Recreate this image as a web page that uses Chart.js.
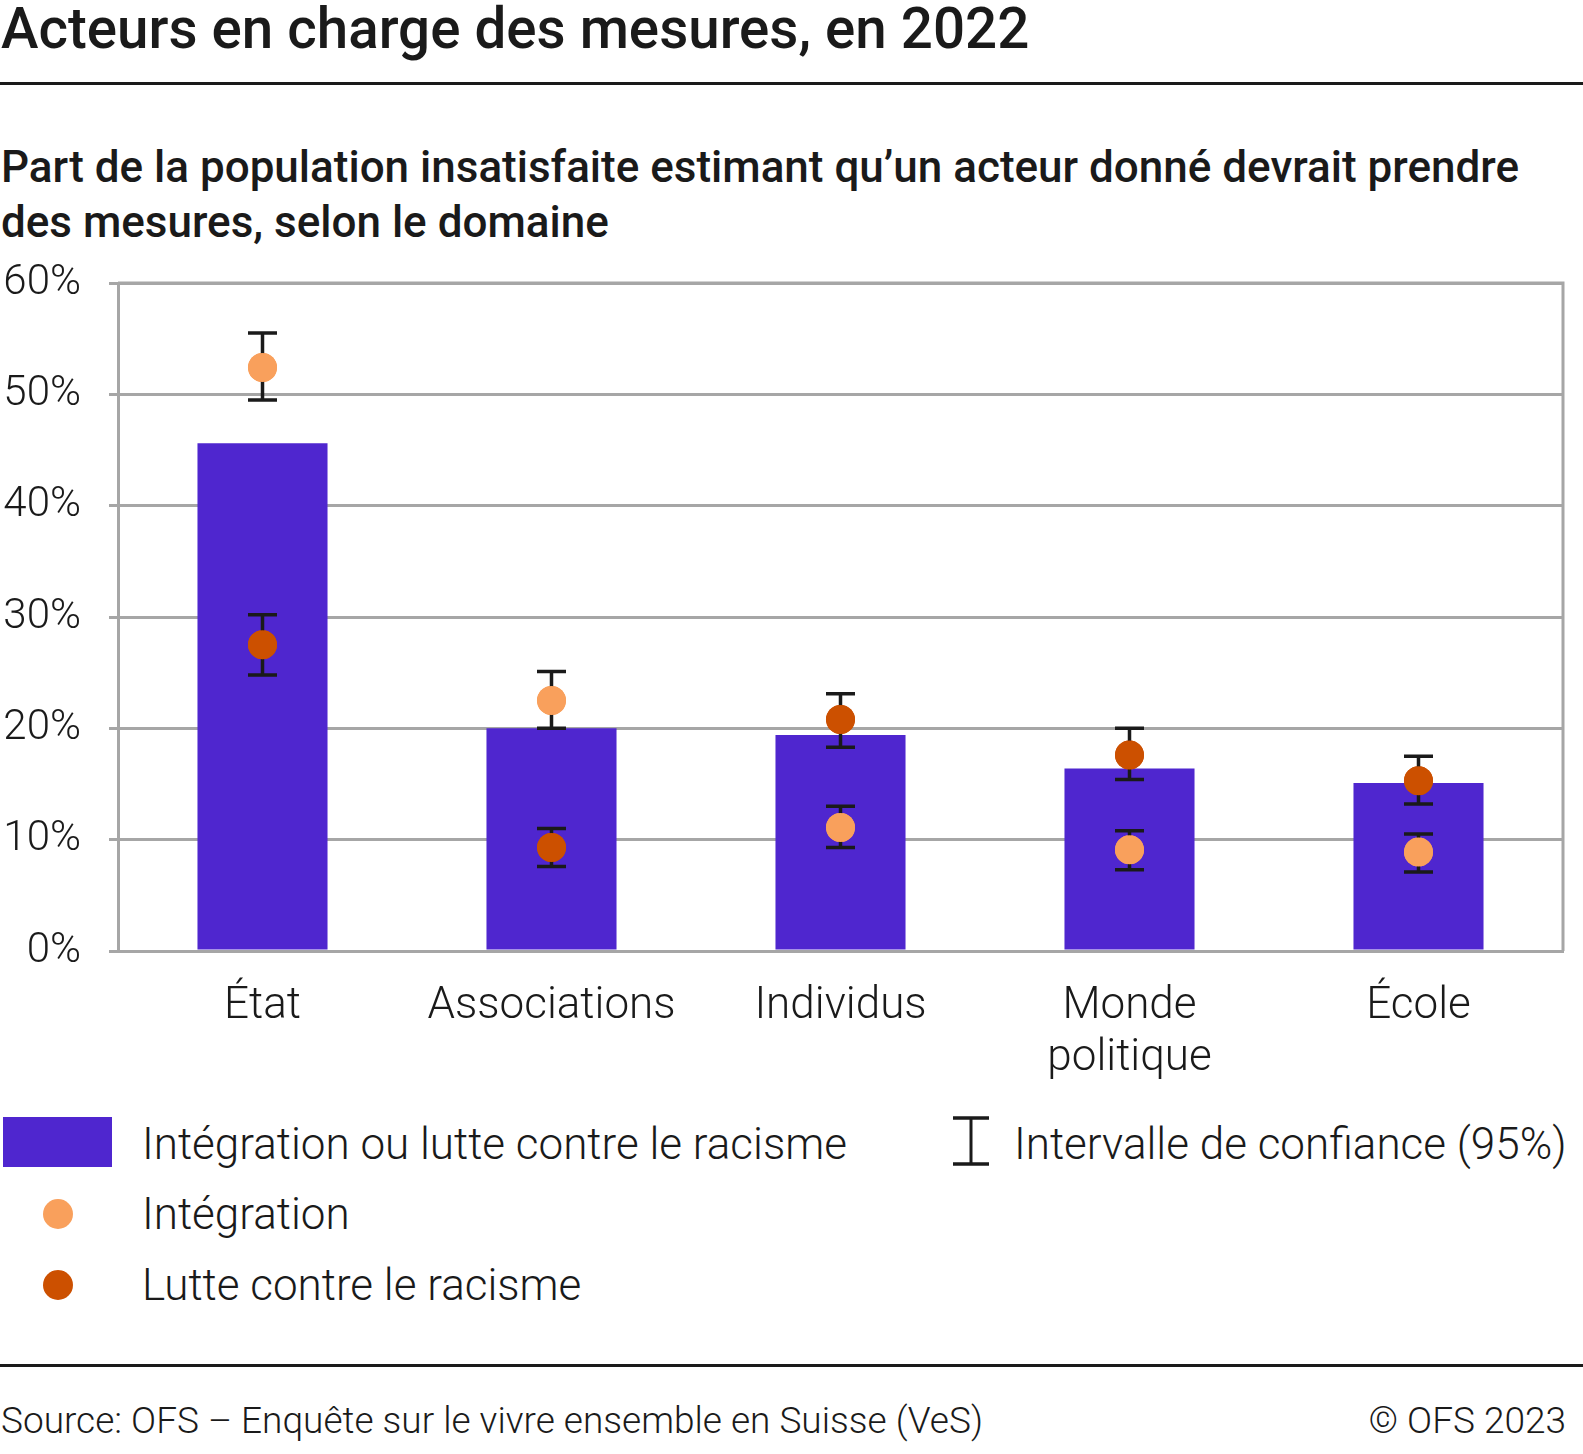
<!DOCTYPE html>
<html>
<head>
<meta charset="utf-8">
<script src="https://cdn.jsdelivr.net/npm/chart.js@4"></script>
<style>
  html, body { margin: 0; padding: 0; width: 1583px; height: 1454px; overflow: hidden; background: #fff; }
  body { font-family: Roboto, sans-serif; color: #1a1a1a; }
  #page { position: relative; width: 1583px; height: 1454px; overflow: hidden; }
  .abs { position: absolute; white-space: nowrap; }
  #title { left: 1px; top: -4px; font-size: 56.5px; font-weight: 500; }
  #rule1 { left: 0; top: 82px; width: 1583px; height: 3px; background: #1a1a1a; }
  #sub { left: 1px; top: 140px; font-size: 44px; font-weight: 500; line-height: 55px; }
  #chartBox { left: 0; top: 250px; width: 1583px; height: 840px; }
  .leg { font-size: 44px; font-weight: 300; }
  #rule2 { left: 0; top: 1364px; width: 1583px; height: 3px; background: #1a1a1a; }
  .foot { font-size: 37px; font-weight: 300; top: 1399px; }
</style>
</head>
<body>
<div id="page">
  <div id="title" class="abs">Acteurs en charge des mesures, en 2022</div>
  <div id="rule1" class="abs"></div>
  <div id="sub" class="abs">Part de la population insatisfaite estimant qu’un acteur donné devrait prendre<br>des mesures, selon le domaine</div>
  <div id="chartBox" class="abs"><canvas id="chart" width="1583" height="840"></canvas></div>

  <div class="abs" style="left:3px;top:1117px;width:109px;height:50px;background:#4f26cf"></div>
  <div class="abs leg" style="left:142px;top:1118px">Intégration ou lutte contre le racisme</div>
  <div class="abs" style="left:43px;top:1199px;width:30px;height:30px;border-radius:50%;background:#f9a05c"></div>
  <div class="abs leg" style="left:142px;top:1188px">Intégration</div>
  <div class="abs" style="left:43px;top:1270px;width:30px;height:30px;border-radius:50%;background:#cc5000"></div>
  <div class="abs leg" style="left:142px;top:1259px">Lutte contre le racisme</div>
  <svg class="abs" style="left:951px;top:1115px" width="40" height="54">
    <line x1="2" y1="3" x2="38" y2="3" stroke="#1a1a1a" stroke-width="3.5"/>
    <line x1="20" y1="2" x2="20" y2="50" stroke="#1a1a1a" stroke-width="3"/>
    <line x1="2" y1="49" x2="38" y2="49" stroke="#1a1a1a" stroke-width="3.5"/>
  </svg>
  <div class="abs leg" style="left:1014px;top:1118px">Intervalle de confiance (95%)</div>

  <div id="rule2" class="abs"></div>
  <div class="abs foot" style="left:1px">Source: OFS – Enquête sur le vivre ensemble en Suisse (VeS)</div>
  <div class="abs foot" style="right:17px">© OFS 2023</div>
</div>
<script>
const categories = ['État', 'Associations', 'Individus', ['Monde', 'politique'], 'École'];
const yTicks = [0, 10, 20, 30, 40, 50, 60];

// Intégration ou lutte contre le racisme (barres)
const totalValues = [45.6, 20.0, 19.4, 16.4, 15.1];

// Intégration
const integValues = [52.4, 22.5, 11.1, 9.1, 8.9];
const integLow = [49.5, 20.0, 9.3, 7.3, 7.1];
const integHigh = [55.5, 25.1, 13.0, 10.8, 10.5];

// Lutte contre le racisme
const racismValues = [27.5, 9.3, 20.8, 17.6, 15.3];
const racismLow = [24.8, 7.6, 18.3, 15.4, 13.2];
const racismHigh = [30.2, 11.0, 23.1, 20.0, 17.5];

const GRID = '#a6a6a6';

// draws the 95% intervals, plus the top/right frame of the plot
const errorBars = {
  id: 'errorBars',
  beforeDatasetsDraw(chart) {
    const {ctx, chartArea: a} = chart;
    ctx.save();
    ctx.strokeStyle = GRID;
    ctx.lineWidth = 3;
    ctx.beginPath();
    ctx.moveTo(a.left, a.top);
    ctx.lineTo(a.right, a.top);
    ctx.lineTo(a.right, a.bottom);
    ctx.stroke();
    ctx.restore();
  },
  afterDatasetDraw(chart, args) {
    const ds = chart.data.datasets[args.index];
    if (!ds.low) return;
    const {ctx, scales: {x, y}} = chart;
    const cap = 14.5;
    ctx.save();
    ctx.strokeStyle = '#1a1a1a';
    ctx.lineWidth = 3.5;
    ds.data.forEach((v, i) => {
      const cx = x.getPixelForValue(i);
      const top = y.getPixelForValue(ds.high[i]);
      const bot = y.getPixelForValue(ds.low[i]);
      ctx.beginPath();
      ctx.moveTo(cx, top); ctx.lineTo(cx, bot);
      ctx.moveTo(cx - cap, top); ctx.lineTo(cx + cap, top);
      ctx.moveTo(cx - cap, bot); ctx.lineTo(cx + cap, bot);
      ctx.stroke();
    });
    ctx.restore();
  }
};

// points redrawn after all error bars so they sit on top
const pointsOnTop = {
  id: 'pointsOnTop',
  afterDatasetsDraw(chart) {
    [1, 2].forEach(i => chart.getDatasetMeta(i).controller.draw());
  }
};

new Chart(document.getElementById('chart'), {
  data: {
    labels: categories,
    datasets: [
      {
        type: 'bar',
        label: 'Intégration ou lutte contre le racisme',
        data: totalValues,
        backgroundColor: '#4f26cf',
        barPercentage: 0.9,
        categoryPercentage: 0.5,
        order: 3
      },
      {
        type: 'line',
        label: 'Intégration',
        data: integValues,
        low: integLow,
        high: integHigh,
        showLine: false,
        pointRadius: 14.5,
        pointBackgroundColor: '#f9a05c',
        pointBorderWidth: 0,
        order: 2
      },
      {
        type: 'line',
        label: 'Lutte contre le racisme',
        data: racismValues,
        low: racismLow,
        high: racismHigh,
        showLine: false,
        pointRadius: 14.5,
        pointBackgroundColor: '#cc5000',
        pointBorderWidth: 0,
        order: 1
      }
    ]
  },
  options: {
    responsive: false,
    animation: false,
    layout: {padding: {top: 33, right: 20, left: 0, bottom: 0}},
    plugins: {legend: {display: false}, tooltip: {enabled: false}},
    scales: {
      x: {
        grid: {display: false},
        border: {color: GRID, width: 3},
        ticks: {
          color: '#1a1a1a',
          padding: 22,
          maxRotation: 0,
          font: {family: 'Roboto', size: 44, weight: 300, lineHeight: 1.18}
        },
        afterFit(s) { s.height = 139; }
      },
      y: {
        min: 0,
        max: 60,
        afterBuildTicks(s) { s.ticks = yTicks.map(v => ({value: v})); },
        grid: {color: GRID, lineWidth: 3, tickLength: 9, drawTicks: true},
        border: {color: GRID, width: 3},
        ticks: {
          color: '#1a1a1a',
          padding: 28,
          font: {family: 'Roboto', size: 42, weight: 300},
          callback: v => v + '%'
        },
        afterFit(s) {
          s.width = 118;
          s.paddingTop = 0;
          s.paddingBottom = 0;
        }
      }
    }
  },
  plugins: [errorBars, pointsOnTop]
});
</script>
</body>
</html>
